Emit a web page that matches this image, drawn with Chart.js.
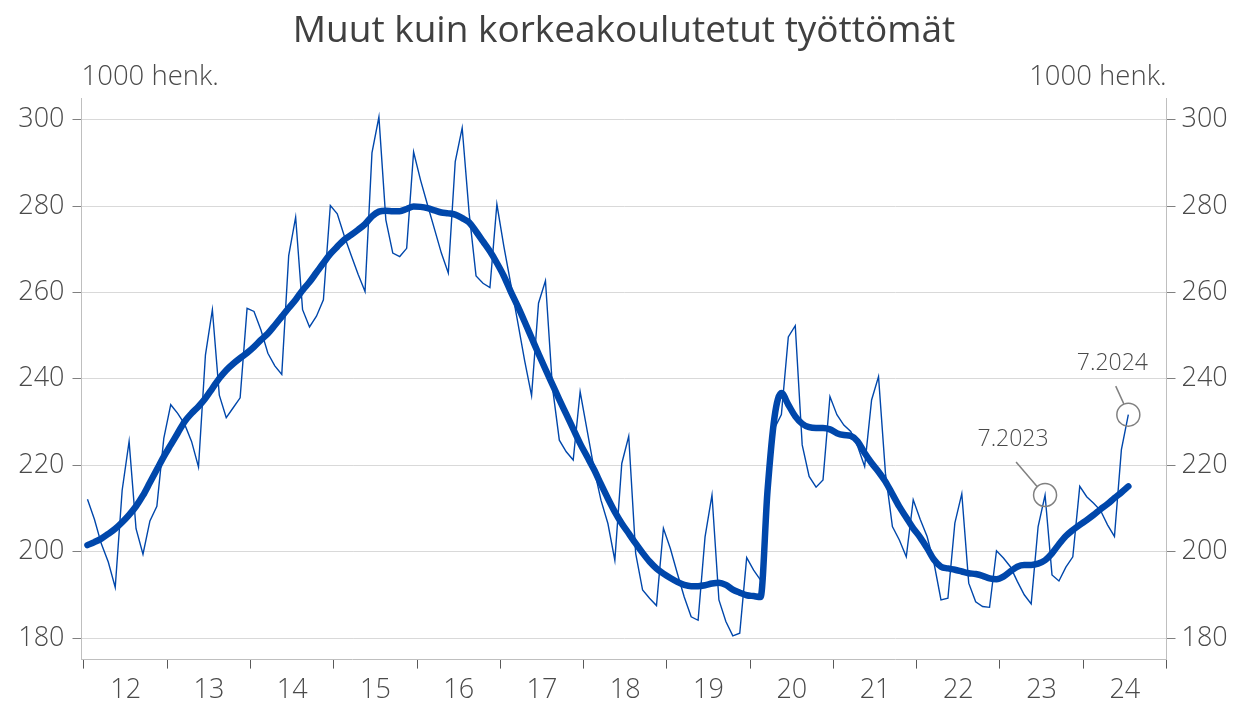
<!DOCTYPE html>
<html>
<head>
<meta charset="utf-8">
<script src="https://cdn.jsdelivr.net/npm/chart.js@4/dist/chart.umd.min.js"></script>
<style>
  html, body { margin: 0; padding: 0; background: #ffffff; }
  #wrap { width: 1239px; height: 704px; position: relative; }
</style>
</head>
<body>
<div id="wrap"><canvas id="c" width="1239" height="704"></canvas></div>
<script>
// ---- Data ----
const titleText = 'Muut kuin korkeakoulutetut työttömät';
const unitLabel = '1000 henk.';
const yearLabels = ['12','13','14','15','16','17','18','19','20','21','22','23','24'];
const yTickValues = [180, 200, 220, 240, 260, 280, 300];

// Monthly unemployed (1000 persons), 1/2012 - 7/2024
const monthlyValues = [
  212.1, 207.5, 201.8, 197.6, 191.7, 214.2, 225.5, 205.3, 199.4, 207.1, 210.5, 226.2,
  234.0, 232.0, 229.5, 225.5, 219.6, 245.5, 256.0, 236.2, 231.0, 233.3, 235.6, 256.3,
  255.6, 251.3, 245.9, 243.0, 241.0, 268.5, 277.4, 256.0, 252.0, 254.5, 258.3, 280.1,
  278.2, 273.1, 268.6, 264.2, 260.2, 292.3, 300.6, 276.8, 269.1, 268.3, 270.2, 292.5,
  286.0, 280.3, 274.7, 269.1, 264.5, 290.3, 298.1, 278.4, 263.8, 262.1, 261.1, 280.4,
  270.7, 262.0, 253.2, 244.2, 236.1, 257.5, 262.7, 238.2, 225.8, 223.1, 221.2, 237.0,
  228.1, 219.2, 211.9, 206.5, 198.0, 220.4, 226.7, 199.6, 191.1, 189.2, 187.5, 205.4,
  200.7, 195.0, 189.5, 184.9, 184.1, 203.4, 213.1, 188.8, 183.8, 180.5, 181.1, 198.6,
  195.7, 193.4, 212.0, 228.5, 231.7, 249.7, 252.3, 224.7, 217.4, 214.9, 216.6, 235.9,
  231.7, 229.3, 227.8, 224.3, 219.7, 235.1, 240.5, 218.1, 205.8, 202.7, 198.8, 212.0,
  207.5, 203.5, 197.3, 188.8, 189.2, 206.6, 213.4, 192.7, 188.4, 187.3, 187.1, 200.2,
  198.5, 196.5, 193.1, 190.0, 187.9, 205.8, 213.1, 194.6, 193.2, 196.4, 198.8, 215.1,
  212.7, 211.2, 209.5, 206.2, 203.5, 223.6, 231.7
];

// Trend
const trendValues = [
  201.5, 202.2, 203.0, 204.1, 205.3, 206.8, 208.5, 210.5, 213.0, 216.0, 219.0, 222.0,
  224.7, 227.4, 230.1, 232.0, 233.6, 235.5, 237.8, 240.1, 242.0, 243.5, 244.8, 246.0,
  247.4, 249.0, 250.5, 252.4, 254.4, 256.4, 258.3, 260.5, 262.4, 264.6, 266.8, 268.9,
  270.6, 272.2, 273.3, 274.5, 275.8, 277.6, 278.7, 278.9, 278.8, 278.8, 279.3, 279.9,
  279.8, 279.5, 279.0, 278.5, 278.3, 278.0, 277.2, 276.2, 274.1, 271.8, 269.5, 266.8,
  263.8, 260.2, 256.8, 253.2, 249.5, 245.8, 242.2, 238.7, 235.2, 231.8, 228.4, 225.0,
  222.0, 219.0, 215.6, 212.3, 209.2, 206.5, 204.2, 201.9, 199.7, 197.7, 196.1, 194.9,
  193.9, 193.0, 192.3, 192.0, 192.0, 192.2, 192.6, 192.8, 192.3, 191.2, 190.5, 189.9,
  189.7, 189.5, 214.0, 231.0, 236.7, 234.0, 231.3, 229.6, 228.8, 228.6, 228.6, 228.3,
  227.4, 227.0, 226.8, 225.5, 222.8, 220.5, 218.5, 216.2, 213.3, 210.4, 207.9, 205.4,
  203.3, 200.8, 198.1, 196.5, 196.1, 195.8, 195.4, 195.0, 194.8, 194.4, 193.8, 193.6,
  194.2, 195.4, 196.5, 196.9, 196.9, 197.2, 198.0, 199.6, 201.7, 203.6, 205.0, 206.2,
  207.3, 208.5, 209.8, 211.0, 212.4, 213.7, 215.1
];

// Highlighted months (index from 1/2012) and their labels
const annotMonthIndex = [138, 150];
const annotLabels = ['7.2023', '7.2024'];

// ---- Build ----
const BLUE = '#0047AB';
const TEXT = '#4a4a4a';
const toXY = arr => arr.map((v, i) => ({ x: i + 0.5, y: v }));
const annotData = annotMonthIndex.map(i => ({ x: i + 0.5, y: monthlyValues[i] }));
const xTickValues = [];
for (let k = 0; k <= yearLabels.length * 12; k += 6) xTickValues.push(k);

const annotStyle = [
  { line: [-29, -33, -8, -8.5], text: [-32, -56] },
  { line: [-12.6, -28.5, -4.5, -10.8], text: [-16, -51] }
];

const FONT = '"Open Sans", "Noto Sans", sans-serif';

const textPlugin = {
  id: 'texts',
  afterDraw(chart) {
    const ctx = chart.ctx, a = chart.chartArea;
    ctx.save();
    ctx.fillStyle = '#404040';
    ctx.font = '37px ' + FONT;
    ctx.textAlign = 'center';
    ctx.textBaseline = 'alphabetic';
    ctx.fillText(titleText, 624, 42);
    ctx.fillStyle = TEXT;
    ctx.font = '300 27.5px ' + FONT;
    ctx.textAlign = 'left';
    ctx.fillText(unitLabel, a.left, 85);
    ctx.textAlign = 'right';
    ctx.fillText(unitLabel, a.right, 85);
    const meta = chart.getDatasetMeta(2);
    ctx.strokeStyle = '#808080';
    ctx.lineWidth = 1.5;
    ctx.font = '300 23px ' + FONT;
    ctx.textAlign = 'center';
    ctx.textBaseline = 'middle';
    meta.data.forEach((pt, k) => {
      const s = annotStyle[k];
      ctx.beginPath();
      ctx.moveTo(pt.x + s.line[0], pt.y + s.line[1]);
      ctx.lineTo(pt.x + s.line[2], pt.y + s.line[3]);
      ctx.stroke();
      ctx.fillText(annotLabels[k], pt.x + s.text[0], pt.y + s.text[1]);
    });
    ctx.restore();
  }
};

const tickFont = { family: FONT, size: 27, weight: 300 };

new Chart(document.getElementById('c'), {
  type: 'line',
  data: {
    datasets: [
      {
        label: 'trend', data: toXY(trendValues), borderColor: BLUE, borderWidth: 6.5,
        pointRadius: 0, cubicInterpolationMode: 'monotone', borderJoinStyle: 'round',
        borderCapStyle: 'round', order: 1, yAxisID: 'y'
      },
      {
        label: 'monthly', data: toXY(monthlyValues), borderColor: BLUE, borderWidth: 1.4,
        pointRadius: 0, tension: 0, order: 2, yAxisID: 'y'
      },
      {
        label: 'annot', type: 'scatter', data: annotData, showLine: false,
        pointRadius: 11.5, pointHoverRadius: 11.5, pointBorderColor: '#808080', pointBorderWidth: 1.5,
        pointBackgroundColor: 'rgba(0,0,0,0)', order: 0, yAxisID: 'y'
      }
    ]
  },
  options: {
    responsive: false,
    animation: false,
    devicePixelRatio: 1,
    layout: { padding: { top: 98, left: 0, right: 0, bottom: 0 } },
    plugins: { legend: { display: false }, tooltip: { enabled: false }, title: { display: false } },
    events: [],
    scales: {
      x: {
        type: 'linear', min: -0.36, max: 156,
        afterBuildTicks: s => { s.ticks = xTickValues.map(v => ({ value: v })); },
        afterFit: s => { s.height = 44.4; },
        border: { color: '#bfbfbf', width: 1 },
        grid: {
          drawOnChartArea: false, tickLength: 9,
          tickColor: c => (c.tick && c.tick.value % 12 === 0) ? '#595959' : 'rgba(0,0,0,0)',
          tickWidth: 1
        },
        ticks: {
          autoSkip: false, maxRotation: 0, minRotation: 0, padding: 6,
          color: TEXT, font: tickFont,
          callback: v => (v % 12 === 6) ? yearLabels[(v - 6) / 12] : ''
        }
      },
      y: {
        position: 'left', min: 175, max: 305,
        afterBuildTicks: s => { s.ticks = yTickValues.map(v => ({ value: v })); },
        afterFit: s => { s.width = 81.5; },
        border: { color: '#bfbfbf', width: 1 },
        grid: { color: '#d9d9d9', lineWidth: 1, tickLength: 9, tickColor: '#808080' },
        ticks: { color: TEXT, font: tickFont, padding: 8 }
      },
      y2: {
        position: 'right', min: 175, max: 305,
        afterBuildTicks: s => { s.ticks = yTickValues.map(v => ({ value: v })); },
        afterFit: s => { s.width = 72.5; },
        border: { color: '#bfbfbf', width: 1 },
        grid: { drawOnChartArea: false, tickLength: 9, tickColor: '#808080' },
        ticks: { color: TEXT, font: tickFont, padding: 6 }
      }
    }
  },
  plugins: [textPlugin]
});
</script>
</body>
</html>
